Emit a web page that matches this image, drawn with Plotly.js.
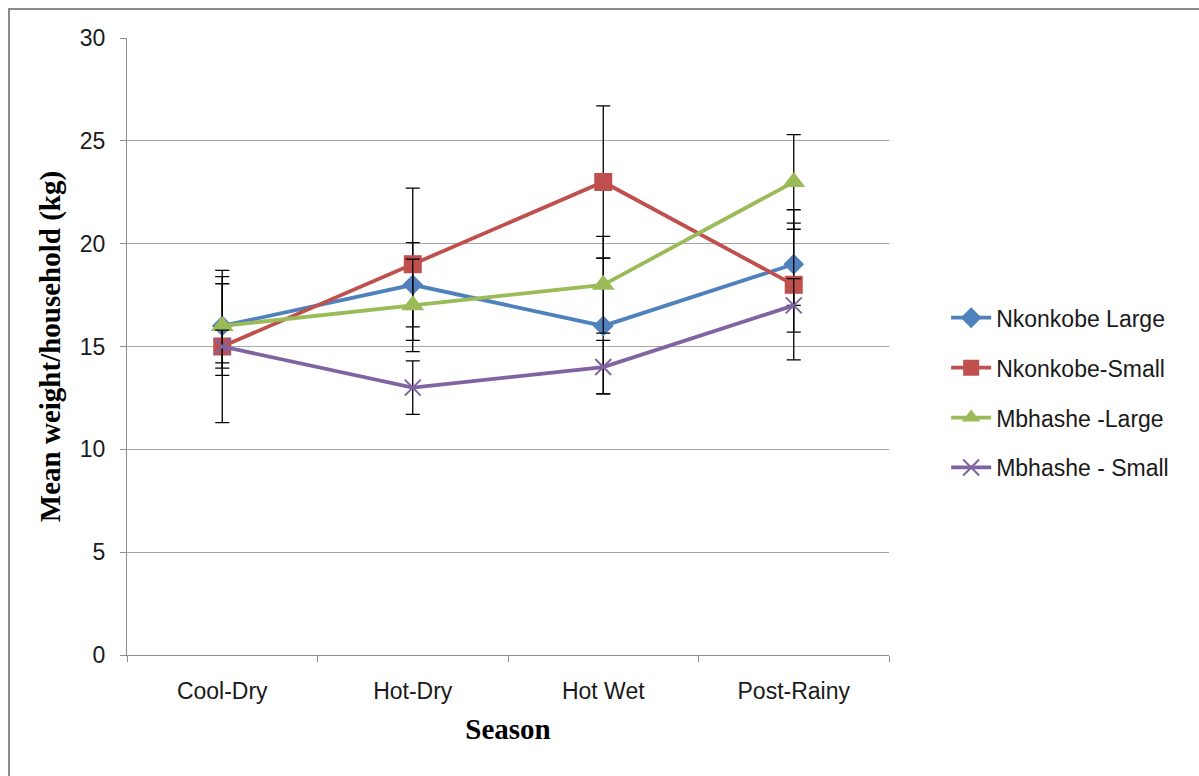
<!DOCTYPE html>
<html>
<head>
<meta charset="utf-8">
<script src="https://cdn.plot.ly/plotly-3.0.1.min.js"></script>
<style>
  html, body { margin: 0; padding: 0; background: #fff; }
  #frame { position: absolute; left: 8px; top: 8px; width: 1300px; height: 900px; border: 2px solid #8a8a8a; box-sizing: border-box; pointer-events: none; z-index: 5; }
  #chart { position: absolute; left: 0; top: 0; width: 1199px; height: 776px; }
</style>
</head>
<body>
<div id="chart"></div>
<div id="frame"></div>
<script>
const seasons = ["Cool-Dry", "Hot-Dry", "Hot Wet", "Post-Rainy"];

const seriesNames = ["Nkonkobe Large", "Nkonkobe-Small", "Mbhashe -Large", "Mbhashe - Small"];

const nkonkobeLarge = [16, 18, 16, 19];
const nkonkobeSmall = [15, 19, 23, 18];
const mbhasheLarge = [16, 17, 18, 23];
const mbhasheSmall = [15, 13, 14, 17];

const nkonkobeLargeErr = [2.4, 2.05, 3.3, 2.0];
const nkonkobeSmallErr = [3.7, 3.7, 3.7, 3.65];
const mbhasheLargeErr = [2.05, 2.25, 2.35, 2.3];
const mbhasheSmallErr = [0.8, 1.3, 1.3, 1.3];

const yTickVals = [0, 5, 10, 15, 20, 25, 30];

const styles = [
  { color: "#4F81BD", symbol: "diamond", size: 16 },
  { color: "#C0504D", symbol: "square", size: 18 },
  { color: "#9BBB59", symbol: "triangle-up", size: 20 },
  { color: "#8064A2", symbol: "x-thin-open", size: 16 }
];

const ys = [nkonkobeLarge, nkonkobeSmall, mbhasheLarge, mbhasheSmall];
const errs = [nkonkobeLargeErr, nkonkobeSmallErr, mbhasheLargeErr, mbhasheSmallErr];

const traces = ys.map((y, i) => ({
  type: "scatter",
  mode: "lines+markers",
  name: seriesNames[i],
  legendgroup: "g" + i,
  x: seasons,
  y: y,
  line: { color: styles[i].color, width: 3.8 },
  marker: {
    symbol: styles[i].symbol,
    size: styles[i].size,
    color: styles[i].color,
    line: { color: styles[i].color, width: styles[i].symbol === "x-thin-open" ? 2 : 0 }
  },
  error_y: { type: "data", array: errs[i], visible: true, color: "#000", thickness: 1.3, width: 7 }
}));

const layout = {
  width: 1199,
  height: 776,
  margin: { l: 127, r: 310, t: 38, b: 121 },
  paper_bgcolor: "#ffffff",
  plot_bgcolor: "#ffffff",
  showlegend: true,
  legend: {
    x: 1.075, xanchor: "left",
    y: 0.425, yanchor: "middle",
    font: { family: "Liberation Sans, Arial, sans-serif", size: 23, color: "#1a1a1a" },
    tracegroupgap: 17,
    itemwidth: 40,
    bgcolor: "rgba(0,0,0,0)"
  },
  xaxis: {
    type: "category",
    range: [-0.5, 3.5],
    tickson: "boundaries",
    ticks: "outside",
    ticklen: 6,
    tickcolor: "#8c8c8c",
    ticklabelstandoff: 15,
    showline: true,
    linecolor: "#8c8c8c",
    linewidth: 1,
    showgrid: false,
    zeroline: false,
    tickfont: { family: "Liberation Sans, Arial, sans-serif", size: 23, color: "#1a1a1a" },
    title: { text: "Season", font: { family: "Liberation Serif, Times New Roman, serif", size: 29, color: "#000", weight: "bold" }, standoff: 16 }
  },
  yaxis: {
    range: [0, 30],
    tickvals: yTickVals,
    ticks: "outside",
    ticklen: 6,
    tickcolor: "#8c8c8c",
    ticklabelstandoff: 10,
    showline: true,
    linecolor: "#8c8c8c",
    linewidth: 1,
    showgrid: true,
    gridcolor: "#a6a6a6",
    gridwidth: 1,
    zeroline: false,
    tickfont: { family: "Liberation Sans, Arial, sans-serif", size: 23, color: "#1a1a1a" },
    title: { text: "Mean weight/household (kg)", font: { family: "Liberation Serif, Times New Roman, serif", size: 29, color: "#000", weight: "bold" }, standoff: 10 }
  }
};

Plotly.newPlot("chart", traces, layout, { displayModeBar: false, staticPlot: true });
</script>
</body>
</html>
